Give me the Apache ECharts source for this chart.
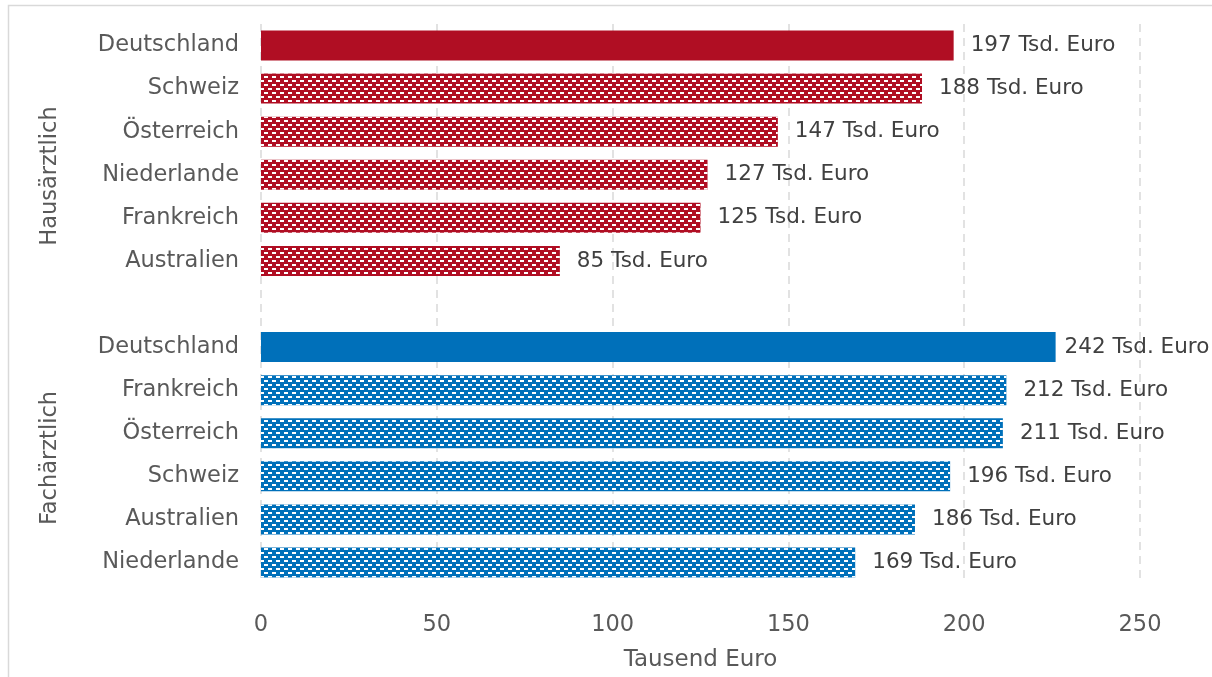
<!DOCTYPE html>
<html><head><meta charset="utf-8">
<script src="https://cdn.jsdelivr.net/npm/echarts@6/dist/echarts.min.js"></script>
<style>html,body{margin:0;padding:0;background:#fff}#c{width:1212px;height:677px}</style>
</head><body><div id="c"></div>
<script>
// Data
const groupNames = ['Hausärztlich', 'Fachärztlich'];
const hausCountries = ['Deutschland', 'Schweiz', 'Österreich', 'Niederlande', 'Frankreich', 'Australien'];
const hausValues = [197, 188, 147, 127, 125, 85];
const hausLabels = ['197 Tsd. Euro', '188 Tsd. Euro', '147 Tsd. Euro', '127 Tsd. Euro', '125 Tsd. Euro', '85 Tsd. Euro'];
const fachCountries = ['Deutschland', 'Frankreich', 'Österreich', 'Schweiz', 'Australien', 'Niederlande'];
const fachValues = [226, 212, 211, 196, 186, 169];
const fachLabels = ['242 Tsd. Euro', '212 Tsd. Euro', '211 Tsd. Euro', '196 Tsd. Euro', '186 Tsd. Euro', '169 Tsd. Euro'];
const xTicks = [0, 50, 100, 150, 200, 250];
const xAxisName = 'Tausend Euro';

const RED = '#B00E23', BLUE = '#0070BA';
const FONT = 'DejaVu Sans';
const decal = {symbol: 'rect', symbolSize: 1, color: '#ffffff', dashArrayX: [[4, 4], [0, 4, 4, 0]], dashArrayY: [2, 2], rotation: 0};

const cats = [], data = [];
function addGroup(g, countries, values, labels, color) {
  countries.forEach((c, i) => {
    cats.push(g + '|' + c);
    const item = {value: values[i], labelText: labels[i], itemStyle: {color: color}};
    if (c !== 'Deutschland') item.itemStyle.decal = decal;
    if (g === 'F' && c === 'Deutschland') item.label = {distance: 9};
    data.push(item);
  });
}
addGroup('H', hausCountries, hausValues, hausLabels, RED);
cats.push('gap|'); data.push('-');
addGroup('F', fachCountries, fachValues, fachLabels, BLUE);

const chart = echarts.init(document.getElementById('c'));
chart.setOption({
  animation: false,
  textStyle: {fontFamily: FONT},
  grid: {left: 261, right: 72, top: 24, bottom: 87, containLabel: false},
  xAxis: {
    type: 'value', min: xTicks[0], max: xTicks[xTicks.length - 1], interval: 50,
    name: xAxisName, nameLocation: 'middle', nameGap: 65,
    nameTextStyle: {fontSize: 23, color: '#595959', fontFamily: FONT},
    axisLine: {show: false}, axisTick: {show: false},
    axisLabel: {fontSize: 22.5, color: '#595959', margin: 30, fontFamily: FONT},
    splitLine: {show: true, lineStyle: {color: '#d9d9d9', type: [8, 6], width: 1.5}}
  },
  yAxis: {
    type: 'category', inverse: true, data: cats,
    axisLine: {show: false}, axisTick: {show: false},
    axisLabel: {fontSize: 22.5, color: '#595959', margin: 22, fontFamily: FONT,
      formatter: v => v.split('|')[1]}
  },
  series: [{
    type: 'bar', data: data, barWidth: 30,
    label: {show: true, position: 'right', distance: 17, fontSize: 21.5, color: '#404040', fontFamily: FONT,
      formatter: p => p.data.labelText}
  }],
  graphic: [
    {type: 'rect', shape: {x: 8.5, y: 5.5, width: 1400, height: 900}, style: {fill: null, stroke: '#d9d9d9', lineWidth: 1.5}, silent: true},
    {type: 'text', x: 50, y: 176, rotation: Math.PI / 2, style: {text: groupNames[0], fontSize: 22.5, fill: '#595959', fontFamily: FONT, textAlign: 'center', textVerticalAlign: 'middle'}},
    {type: 'text', x: 50, y: 458, rotation: Math.PI / 2, style: {text: groupNames[1], fontSize: 22.5, fill: '#595959', fontFamily: FONT, textAlign: 'center', textVerticalAlign: 'middle'}}
  ]
});
</script></body></html>
